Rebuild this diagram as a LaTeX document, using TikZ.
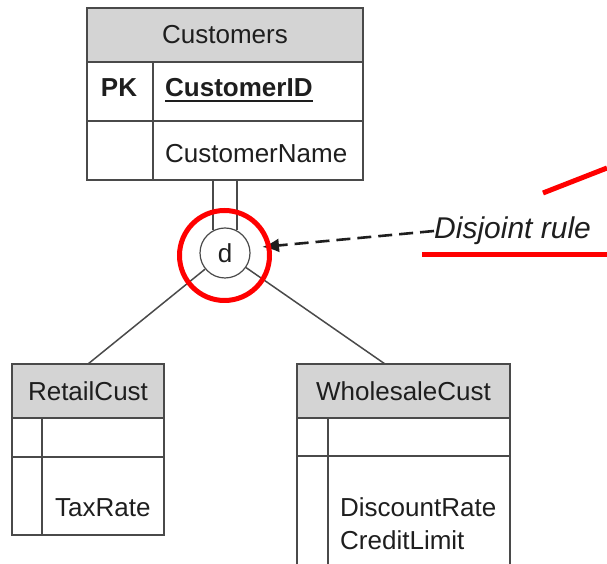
\documentclass[tikz,border=0pt]{standalone}
\usepackage{fontspec}
\setmainfont{Liberation Sans}
\usetikzlibrary{arrows.meta,calc}
\definecolor{framegray}{HTML}{4A4A4A}
\definecolor{headgray}{HTML}{D4D4D4}
\definecolor{inkgray}{HTML}{1E1E1E}
\definecolor{markred}{HTML}{FF0000}
\begin{document}
\begin{tikzpicture}[x=1pt,y=1pt,
  cellbox/.style={draw=framegray, line width=1.6pt, inner sep=0pt, outer sep=0pt, anchor=north west},
  headbox/.style={cellbox, fill=headgray, text=inkgray, font=\fontsize{26}{30}\selectfont},
  attr/.style={text=inkgray, font=\fontsize{26}{30}\selectfont, inner sep=0pt, anchor=base west},
  link/.style={draw=framegray, line width=1.5pt},
  redmark/.style={draw=markred, line width=5pt}
]
\useasboundingbox (0,0) rectangle (607,564);

% Customers supertype
\node[headbox, minimum width=276pt, minimum height=54pt] (custhead) at (87,556) {Customers};
\node[cellbox, minimum width=66pt, minimum height=59pt] (custkey1) at (custhead.south west) {};
\node[cellbox, minimum width=210pt, minimum height=59pt] (custatt1) at (custkey1.north east) {};
\node[cellbox, minimum width=66pt, minimum height=59pt] (custkey2) at (custkey1.south west) {};
\node[cellbox, minimum width=210pt, minimum height=59pt] (custatt2) at (custkey2.north east) {};
\node[attr, anchor=base, font=\fontsize{26}{30}\selectfont\bfseries] (pk) at (119,467) {PK};
\node[attr, font=\fontsize{26}{30}\selectfont\bfseries] (cid) at (165,467) {CustomerID};
\draw[draw=inkgray, line width=2pt] ([yshift=-4pt]cid.base west) -- ([yshift=-4pt]cid.base east);
\node[attr] (cname) at (165,401) {CustomerName};

% RetailCust subtype
\node[headbox, minimum width=152pt, minimum height=54pt] (rethead) at (12,200) {RetailCust};
\node[cellbox, minimum width=30pt, minimum height=39pt] (retkey1) at (rethead.south west) {};
\node[cellbox, minimum width=122pt, minimum height=39pt] (retatt1) at (retkey1.north east) {};
\node[cellbox, minimum width=30pt, minimum height=78pt] (retkey2) at (retkey1.south west) {};
\node[cellbox, minimum width=122pt, minimum height=78pt] (retatt2) at (retkey2.north east) {};
\node[attr] (taxrate) at (55,47) {TaxRate};

% WholesaleCust subtype
\node[headbox, minimum width=213pt, minimum height=54pt] (whohead) at (297,200) {WholesaleCust};
\node[cellbox, minimum width=31pt, minimum height=38pt] (whokey1) at (whohead.south west) {};
\node[cellbox, minimum width=182pt, minimum height=38pt] (whoatt1) at (whokey1.north east) {};
\node[cellbox, minimum width=31pt, minimum height=120pt] (whokey2) at (whokey1.south west) {};
\node[cellbox, minimum width=182pt, minimum height=120pt] (whoatt2) at (whokey2.north east) {};
\node[attr] (discount) at (340,47) {DiscountRate};
\node[attr] (credit) at (340,14) {CreditLimit};

% disjoint subtype circle and its links
\node[draw=framegray, line width=1.2pt, circle, minimum size=50pt, inner sep=0pt,
      text=inkgray, font=\fontsize{26}{30}\selectfont] (sub) at (225,311) {d};
\draw[link] (sub.118) -- (sub.118 |- custkey2.south);
\draw[link] (sub.62) -- (sub.62 |- custkey2.south);
\draw[link] (sub) -- (rethead.north);
\draw[link] (sub) -- ([xshift=-18.5pt]whohead.north);

% annotation
\node[text=inkgray, font=\fontsize{30}{34}\selectfont\itshape, inner sep=0pt, anchor=west] (rule) at (434,333) {Disjoint rule};
\coordinate (tip) at (262,317);
\draw[draw=inkgray, line width=2.6pt, dash pattern=on 14pt off 7pt,
      -{Latex[length=17pt,width=14pt]}] (rule.west) -- (tip);

% red highlight marks
\node[redmark, circle, minimum size=90pt, inner sep=0pt] (ring) at (224.5,308.5) {};
\draw[redmark] (422,309) -- (607,309);
\draw[redmark] (543,371) -- (607,396);
\end{tikzpicture}
\end{document}
